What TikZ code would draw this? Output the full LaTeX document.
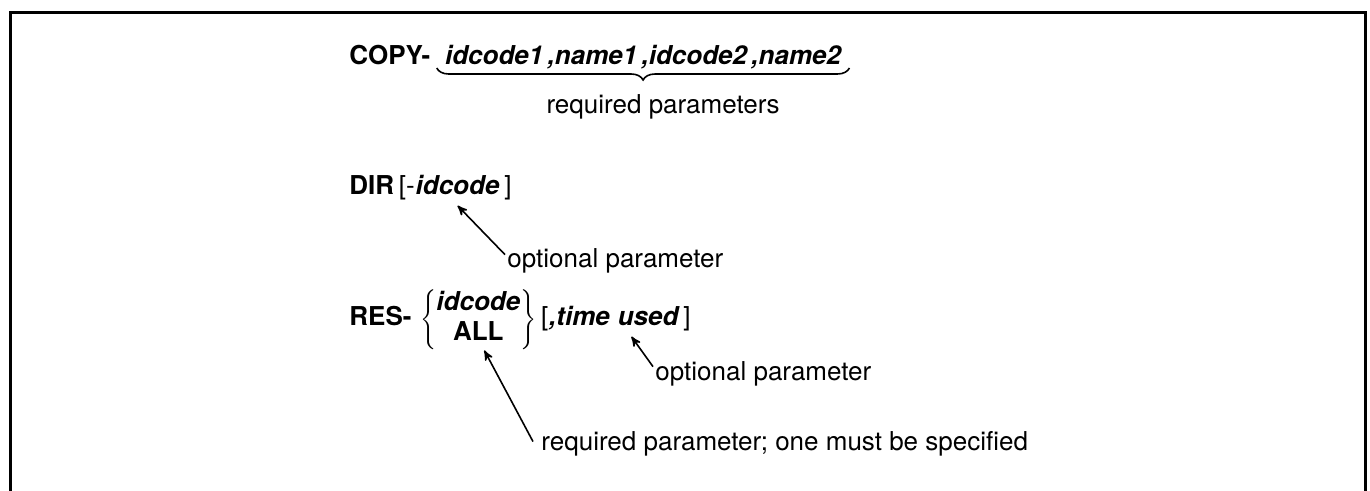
\documentclass[tikz,border=0pt]{standalone}
\usepackage{fontspec}
\setmainfont{TeX Gyre Heros}
\usepackage{tikz}
\usetikzlibrary{positioning}
\usetikzlibrary{arrows}
\usetikzlibrary{decorations.pathreplacing,calc}
\newcommand{\diagfont}{\fontsize{13pt}{15pt}\selectfont}
\tikzset{cmd word/.style={inner sep=0pt,font=\diagfont\bfseries},}
\tikzset{arg word/.style={inner sep=0pt,font=\diagfont\bfseries\itshape},}
\tikzset{plain word/.style={inner sep=0pt,font=\diagfont},}
\tikzset{note text/.style={inner sep=0pt,anchor=base west,font=\diagfont},}

\begin{document}
\begin{tikzpicture}[x=0.5pt, y=-0.5pt, >=stealth']
    \useasboundingbox (0,0) rectangle (1370,491);
    \draw[line width=1.5pt] (10,491) -- (10,13) -- (1365,13) -- (1365,491);

    % COPY
    \node[cmd word, anchor=base west] (copy) at (349,65) {COPY-};
    \node[arg word] (copyargs) [base right=7pt of copy] {idcode1\,,name1\,,idcode2\,,name2};
    \draw[thick, decorate, decoration={brace,mirror,amplitude=6pt}]
        ([xshift=-4pt,yshift=-1.5pt]copyargs.base west) -- ([xshift=4pt,yshift=-1.5pt]copyargs.base east);
    \node[plain word] (copynote) [below=12pt of copyargs, xshift=10pt] {required parameters};

    % DIR
    \node[cmd word, anchor=base west] (dir) at (349,195) {DIR};
    \node[plain word] (diropen) [base right=2pt of dir] {[-};
    \node[arg word] (dirid) [base right=0pt of diropen] {idcode};
    \node[plain word] (dirclose) [base right=2pt of dirid] {]};
    \node[note text] (dirnote) at (507,268) {optional parameter};

    % RES
    \node[cmd word, anchor=base west] (res) at (349,326) {RES-};
    \node[cmd word] (resalt) [base right=4pt of res]
        {$\left\{\begin{tabular}{@{}c@{}}\textit{idcode}\\ALL\end{tabular}\right\}$};
    \node[plain word] (resopen) [base right=2pt of resalt] {[};
    \node[arg word] (restime) [base right=0pt of resopen] {,time};
    \node[arg word] (resused) [base right=3.6pt of restime] {used};
    \node[plain word] (resclose) [base right=2pt of resused] {]};
    \node[note text] (resnote) at (655,380) {optional parameter};
    \node[note text] (resreq) at (541,451) {required parameter; one must be specified};

    \path[->, thick]
        ([xshift=-1pt,yshift=-3pt]dirnote.north west) edge ([yshift=-5pt]dirid.south)
        ([xshift=-1pt,yshift=-3pt]resnote.north west) edge ([xshift=7pt,yshift=-5pt]resused.south west)
        ([xshift=-4pt,yshift=-5pt]resreq.north west) edge ([xshift=3pt]resalt.south);
\end{tikzpicture}
\end{document}
